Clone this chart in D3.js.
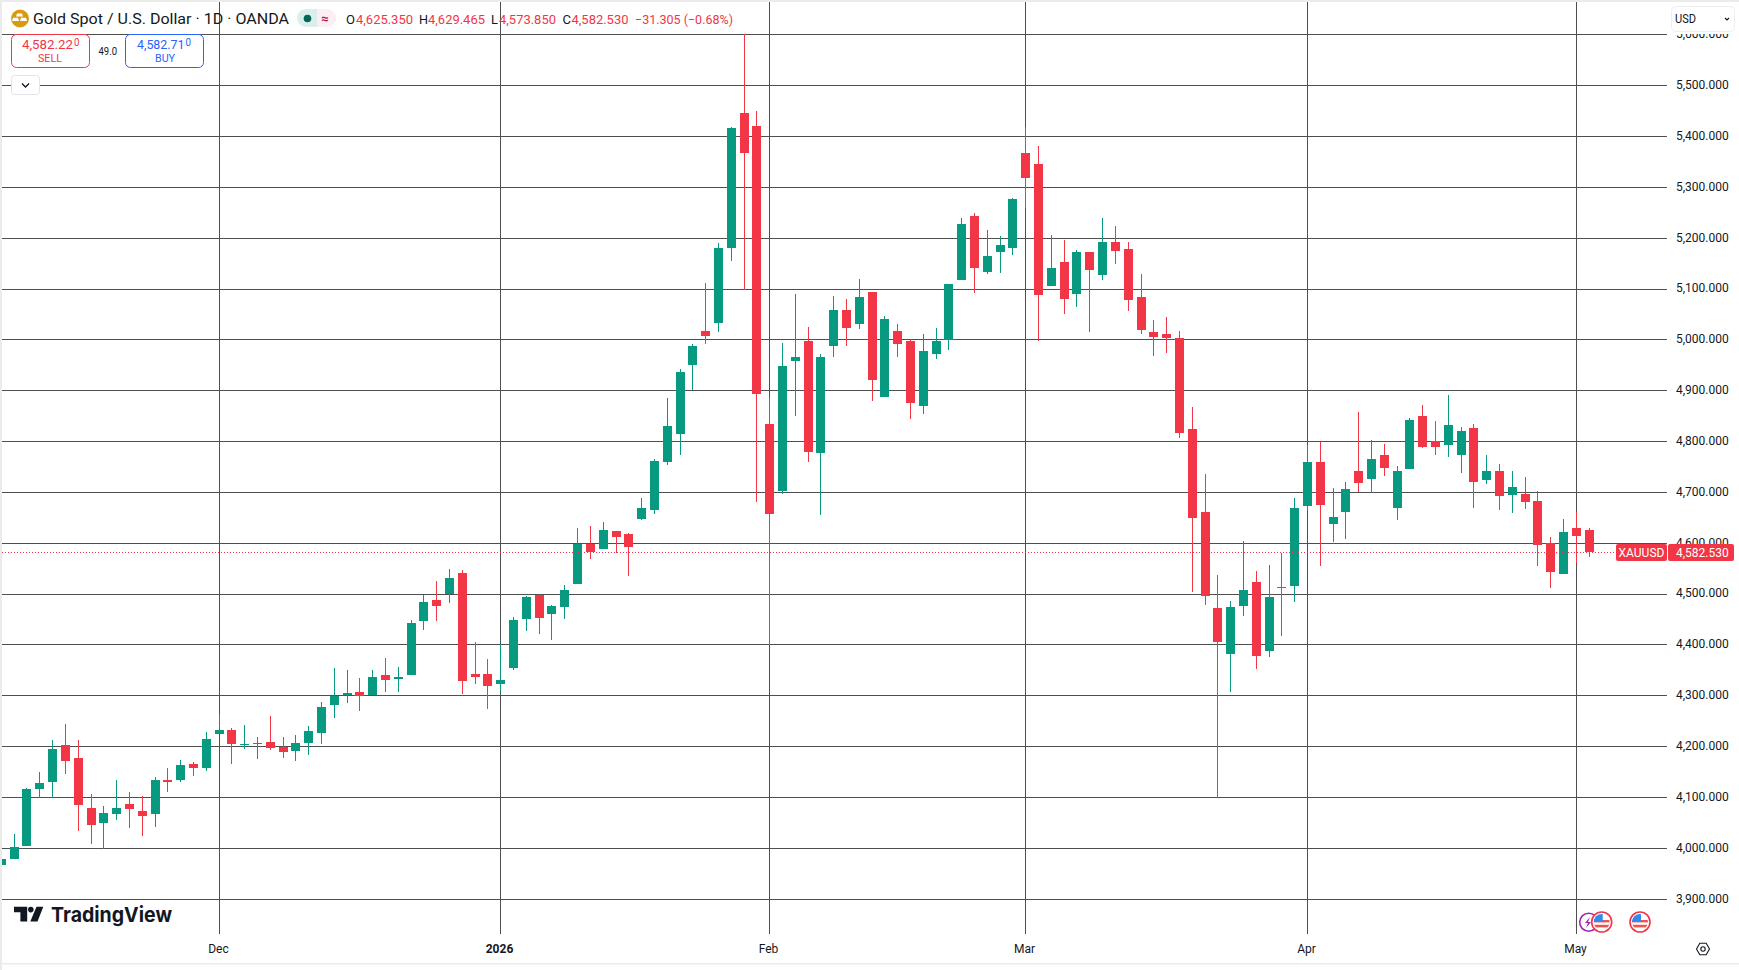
<!DOCTYPE html>
<html>
<head>
<meta charset="utf-8">
<script src="https://cdn.jsdelivr.net/npm/d3@7/dist/d3.min.js"></script>
<style>
html,body{margin:0;padding:0;background:#fff;overflow:hidden}
svg{display:block}
text{font-family:Roboto,"Open Sans",sans-serif;fill:#131722}
</style>
</head>
<body>
<svg id="c" width="1739" height="970"></svg>
<script>
const firstBar = -17; // bar index relative to 1 Dec
const opens = [3968,3979,4005,4117,4130,4203,4177,4079,4050,4068,4088,4073,4068,4135,4135,4165,4158,
4225,4232,4203,4205,4210,4199,4191,4208,4226,4281,4302,4308,4302,4340,4334,4340,4448,4489,4501,4542,4342,4342,
4324,4354,4452,4499,4460,4475,4519,4598,4589,4625,4619,4648,4666,4760,4815,4950,5017,5034,5180,5447,5420,
4834,4703,4958,4997,4777,4987,5058,5032,5095,4887,5017,4997,4870,4972,4999,5117,5244,5133,5172,5180,
5368,5346,5106,5153,5090,5173,5128,5193,5179,5085,5016,5012,5004,4825,4661,4473,4382,4477,4524,4388,4514,4516,
4673,4759,4638,4661,4742,4726,4773,4669,4746,4850,4801,4793,4773,4826,4724,4742,4695,4697,4683,4600,4540,4630,
4625.35];
const highs = [3979,4028,4118,4150,4213,4245,4213,4106,4083,4134,4111,4103,4140,4159,4173,4169,4228,
4264,4236,4242,4220,4260,4220,4222,4240,4287,4354,4350,4336,4350,4375,4357,4449,4498,4526,4550,4548,4405,4373,
4402,4456,4497,4501,4479,4517,4631,4634,4642,4625,4621,4689,4765,4885,4942,4991,5111,5190,5419,5601,5451,
4885,4993,5091,5025,4972,5087,5080,5119,5095,5046,5032,5000,5011,5023,5109,5239,5250,5217,5205,5280,
5419,5381,5206,5196,5177,5173,5240,5224,5193,5130,5039,5045,5018,4868,4736,4538,4486,4604,4546,4558,4581,4689,
4793,4800,4708,4720,4859,4803,4795,4752,4846,4871,4840,4891,4828,4834,4773,4756,4742,4730,4703,4612,4648,4661,
4629.465];
const lows = [3968,3979,4005,4100,4100,4146,4034,4009,3999,4056,4041,4025,4042,4111,4130,4143,4153,
4225,4165,4195,4175,4193,4177,4171,4183,4205,4257,4285,4271,4302,4308,4308,4340,4430,4448,4483,4303,4324,4275,
4310,4350,4428,4422,4409,4452,4519,4570,4589,4581,4536,4646,4658,4754,4773,4901,4991,5015,5156,5099,4681,
4400,4697,4850,4760,4655,4966,4987,5021,4879,4887,4966,4844,4854,4962,4981,5117,5093,5129,5131,5166,
5260,4998,5106,5051,5065,5016,5118,5149,5057,5012,4969,4975,4808,4504,4479,4100,4308,4457,4353,4376,4418,4485,
4663,4555,4602,4608,4701,4699,4732,4646,4746,4787,4773,4769,4738,4669,4716,4665,4659,4667,4556,4512,4540,4561,
4573.85];
const closes = [3979,4002,4116,4128,4195,4172,4086,4046,4069,4079,4077,4064,4134,4130,4163,4158,4216,
4232,4205,4205,4208,4197,4189,4208,4230,4279,4300,4305,4300,4338,4331,4337,4444,4485,4477,4532,4330,4338,4320,
4332,4450,4495,4454,4477,4509,4598,4583,4627,4613,4593,4670,4762,4831,4936,4987,5007,5180,5417,5368,4893,
4658,4948,4966,4779,4966,5058,5023,5084,4921,5042,4991,4875,4978,4997,5109,5227,5142,5164,5186,5278,
5319,5088,5141,5081,5173,5138,5193,5175,5079,5020,5006,5004,4817,4649,4496,4406,4475,4508,4379,4494,4513,4669,
4759,4675,4651,4706,4718,4765,4748,4742,4842,4789,4789,4832,4820,4720,4742,4693,4710,4681,4597,4544,4622,4613.8,
4582.53];
const priceTicks = [3900,4000,4100,4200,4300,4400,4500,4600,4700,4800,4900,5000,5100,5200,5300,5400,5500,5600];
const monthLabels = ["Dec","2026","Feb","Mar","Apr","May"];
const monthBars = [0,22,43,63,85,106];
const lastPrice = 4582.53;
const legendQuote = ["4,625.350","4,629.465","4,573.850","4,582.530"];

const UP = "#089981", DOWN = "#F23645", GRID = "#4f4f4f";
const svg = d3.select("#c");
const bars = opens.map((o,i)=>({bar:firstBar+i,o,h:highs[i],l:lows[i],c:closes[i]}));

const x = d3.scaleLinear().domain([0,106]).range([219.05,219.05+106*12.805]);
const y = d3.scaleLinear().domain([3900,5600]).range([899.23,34.78]);
const px = v=>Math.floor(x(v));
const py = v=>Math.floor(y(v));
const cy = v=>Math.round(y(v));

const defs = svg.append("defs");
defs.append("clipPath").attr("id","plot").append("rect").attr("x",2).attr("y",2).attr("width",1665).attr("height",932);

const plot = svg.append("g").attr("clip-path","url(#plot)");
plot.append("g").selectAll("rect").data(priceTicks).join("rect")
 .attr("x",2).attr("width",1665).attr("y",d=>py(d)).attr("height",1).attr("fill",GRID);
plot.append("g").selectAll("rect").data(monthBars).join("rect")
 .attr("x",d=>px(d)).attr("width",1).attr("y",2).attr("height",932).attr("fill",GRID);

const cg = plot.append("g").selectAll("g").data(bars).join("g")
 .attr("fill",d=>d.c>=d.o?UP:DOWN);
cg.append("rect").attr("x",d=>px(d.bar)).attr("width",1)
 .attr("y",d=>cy(d.h)).attr("height",d=>Math.max(1,cy(d.l)-cy(d.h)));
cg.append("rect").attr("x",d=>px(d.bar)-4).attr("width",9)
 .attr("y",d=>cy(Math.max(d.o,d.c))).attr("height",d=>Math.max(1,cy(Math.min(d.o,d.c))-cy(Math.max(d.o,d.c))));

// last price dotted line
plot.append("line").attr("x1",2).attr("x2",1616).attr("y1",py(lastPrice)+.5).attr("y2",py(lastPrice)+.5)
 .attr("stroke",DOWN).attr("stroke-width",1).attr("stroke-dasharray","1,2");

// axes
const ay = svg.append("g").attr("transform","translate(1676,-1)")
 .call(d3.axisRight(y).tickValues(priceTicks).tickSize(0).tickPadding(0).tickFormat(d3.format(",.3f")));
ay.select(".domain").remove();
ay.selectAll("text").attr("font-size",12).attr("font-family","Roboto").attr("fill","#131722");

const ax = svg.append("g").attr("transform","translate(0,944.5)")
 .call(d3.axisBottom(d3.scaleOrdinal().domain(monthLabels).range(monthBars.map(b=>px(b)-1))).tickSize(0).tickPadding(0));
ax.select(".domain").remove();
ax.selectAll("text").attr("font-size",12).attr("font-family","Roboto").attr("fill","#131722")
 .attr("font-weight",d=>d==="2026"?700:400);

// price tags
const tagY = py(lastPrice);
svg.append("rect").attr("x",1616).attr("y",tagY-8).attr("width",51).attr("height",17).attr("rx",2).attr("fill",DOWN);
svg.append("rect").attr("x",1668).attr("y",tagY-8).attr("width",66).attr("height",17).attr("rx",2).attr("fill",DOWN);
svg.append("text").attr("x",1641.5).attr("y",tagY+4.5).attr("text-anchor","middle").attr("font-size",12).style("fill","#fff").text("XAUUSD");
svg.append("text").attr("x",1676).attr("y",tagY+4.5).attr("font-size",12).style("fill","#fff").text(d3.format(",.3f")(lastPrice));

// USD selector
svg.append("rect").attr("x",1668).attr("y",2).attr("width",71).attr("height",32).attr("fill","#fff");
svg.append("rect").attr("x",1671.5).attr("y",6.5).attr("width",63).attr("height",25).attr("rx",4).attr("fill","#fff").attr("stroke","#eceef2");
svg.append("text").attr("x",1675).attr("y",23).attr("font-size",13).attr("textLength",21).attr("lengthAdjust","spacingAndGlyphs").text("USD");
svg.append("path").attr("d","M1725 18l2 2l2-2").attr("fill","none").attr("stroke","#131722").attr("stroke-width",1.1);
// header legend
const t=(xx,yy,s,size,col,len,w)=>{const e=svg.append("text").attr("x",xx).attr("y",yy).attr("font-size",size).style("fill",col).text(s);
 if(len)e.attr("textLength",len).attr("lengthAdjust","spacingAndGlyphs"); if(w)e.attr("font-weight",w); return e;};
svg.append("circle").attr("cx",20).attr("cy",18.5).attr("r",9).attr("fill","#D99A12");
svg.append("path").attr("d","M17.5 13.5h5l1 3h-7zM13.5 17.8h5l1 3.2h-7zM21.5 17.8h5l1 3.2h-7z").attr("fill","#fff").attr("transform","translate(-.5,0)");
t(33,24,"Gold Spot / U.S. Dollar · 1D · OANDA",14,"#131722",256);
svg.append("path").attr("d","M306 9h11v18h-11a9 9 0 0 1 0-18z").attr("fill","#DAEFEC");
svg.append("path").attr("d","M317 9h10a9 9 0 0 1 0 18h-10z").attr("fill","#FDEEF3");
svg.append("circle").attr("cx",307.5).attr("cy",18.5).attr("r",3.8).attr("fill","#056656");
t(321,23,"≈",13,"#B2185A",null,700);
const red=DOWN;
t(346,24,"O",13,"#131722",9); t(356,24,legendQuote[0],13,red,57);
t(419,24,"H",13,"#131722",9); t(428,24,legendQuote[1],13,red,57);
t(491,24,"L",13,"#131722",7); t(499,24,legendQuote[2],13,red,57);
t(562.5,24,"C",13,"#131722",8.5); t(571.5,24,legendQuote[3],13,red,57);
t(635,24,"−31.305 (−0.68%)",13,red,98);

// trade boxes
svg.append("rect").attr("x",11.5).attr("y",34.5).attr("width",78).attr("height",33).attr("rx",5).attr("fill","#fff").attr("stroke",DOWN);
t(22,48.5,"4,582.22",13,DOWN,51); t(74,46,"0",10,DOWN,5.5);
t(38,62,"SELL",11,DOWN,24);
t(98.5,54.5,"49.0",11,"#131722",18.5);
svg.append("rect").attr("x",125.5).attr("y",34.5).attr("width",78).attr("height",33).attr("rx",5).attr("fill","#fff").attr("stroke","#2962FF");
t(137,48.5,"4,582.71",13,"#2962FF",47.5); t(185.5,46,"0",10,"#2962FF",5.5);
t(155,62,"BUY",11,"#2962FF",20);
svg.append("rect").attr("x",11.5).attr("y",75.5).attr("width",28).attr("height",19).attr("rx",3).attr("fill","#fff").attr("stroke","#E0E3EB");
svg.append("path").attr("d","M22 83.5l3.5 3.5l3.5-3.5").attr("fill","none").attr("stroke","#131722").attr("stroke-width",1.3);

// TradingView logo
svg.append("path").attr("fill","#131722").attr("d","M14 906.8h13.2v14.6h-6.8v-9.2h-6.4z");
svg.append("circle").attr("cx",30.8).attr("cy",909.6).attr("r",2.8).attr("fill","#131722");
svg.append("path").attr("fill","#131722").attr("d","M36.5 906.8h6.8l-5.8 14.6h-7.2z");
t(51,921.7,"TradingView",20.5,"#131722",121,700).style("font-family","Inter");

// event icons
defs.append("clipPath").attr("id","f1").append("circle").attr("cx",0).attr("cy",0).attr("r",8);
svg.append("circle").attr("cx",1588.7).attr("cy",922.3).attr("r",9).attr("fill","#fff").attr("stroke","#9C27B0").attr("stroke-width",1.6);
svg.append("path").attr("d","M1590 917l-5 6h3l-2 5l5-6h-3z").attr("fill","#9C27B0");
[1601.7,1640].forEach(cx=>{
 const g=svg.append("g").attr("transform",`translate(${cx},922)`);
 g.append("circle").attr("r",10).attr("fill","#fff").attr("stroke","#F23645").attr("stroke-width",1.6);
 const f=g.append("g").attr("clip-path","url(#f1)");
 f.append("rect").attr("x",-8).attr("y",-8).attr("width",16).attr("height",16).attr("fill","#fff");
 f.append("rect").attr("x",-8).attr("y",-2).attr("width",16).attr("height",2.4).attr("fill","#EF5350");
 f.append("rect").attr("x",-8).attr("y",2.8).attr("width",16).attr("height",2.6).attr("fill","#EF5350");
 f.append("rect").attr("x",-8).attr("y",-8).attr("width",9).attr("height",8).attr("fill","#2E8BF0");
});

// settings icon
svg.append("path").attr("d","M1696.5 949l3.3-5.7h6.4l3.3 5.7l-3.3 5.7h-6.4z").attr("fill","none").attr("stroke","#131722").attr("stroke-width",1.1);
svg.append("circle").attr("cx",1703).attr("cy",949).attr("r",2.2).attr("fill","none").attr("stroke","#131722").attr("stroke-width",1.1);

// page frame
svg.append("rect").attr("x",0).attr("y",0).attr("width",1739).attr("height",2).attr("fill","#EBEBEB");
svg.append("rect").attr("x",0).attr("y",0).attr("width",2).attr("height",970).attr("fill","#EBEBEB");
svg.append("rect").attr("x",0).attr("y",963).attr("width",1739).attr("height",1.5).attr("fill","#EBEBEB");
</script>
</body>
</html>
